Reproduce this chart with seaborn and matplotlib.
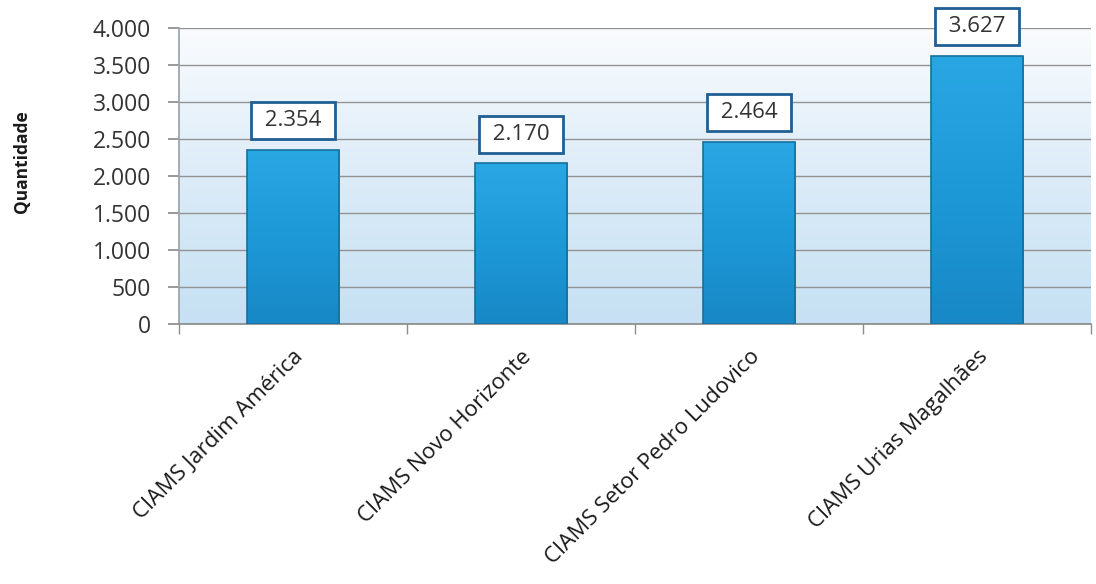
import matplotlib
matplotlib.use("Agg")
import matplotlib.pyplot as plt
import seaborn as sns
import numpy as np
import pandas as pd
from matplotlib.ticker import FuncFormatter, FixedLocator
from matplotlib.colors import LinearSegmentedColormap

categories = ["CIAMS Jardim América", "CIAMS Novo Horizonte",
              "CIAMS Setor Pedro Ludovico", "CIAMS Urias Magalhães"]
values = [2354, 2170, 2464, 3627]
y_ticks = [0, 500, 1000, 1500, 2000, 2500, 3000, 3500, 4000]

sns.set_theme(style="white")
plt.rcParams['font.family'] = ['Open Sans', 'DejaVu Sans']

df = pd.DataFrame({"cat": categories, "val": values})

fig = plt.figure(figsize=(10.96, 5.84), dpi=100)
ax = fig.add_axes([179/1096, 1 - 324/584, (1091-179)/1096, (324-28)/584])

sns.barplot(data=df, x="cat", y="val", color="#1f9ad6", width=0.405,
            edgecolor="#17709e", linewidth=1.2, ax=ax, zorder=3)

# background gradient of plot area
grad = np.linspace(0, 1, 256).reshape(-1, 1)
bg_cmap = LinearSegmentedColormap.from_list("bg", ["#c6e1f3", "#dcecf8", "#fafcfe"])
ax.imshow(grad, cmap=bg_cmap, aspect="auto", extent=[0, 1, 0, 1],
          transform=ax.transAxes, origin="lower", zorder=0)

# bar gradients
bar_cmap = LinearSegmentedColormap.from_list("bar", ["#1888c6", "#1e99d8", "#29a7e3"])
for p in ax.patches:
    x0, y0 = p.get_x(), p.get_y()
    w, h = p.get_width(), p.get_height()
    im = ax.imshow(grad, cmap=bar_cmap, aspect="auto",
                   extent=[x0, x0 + w, y0, y0 + h], origin="lower", zorder=3.5)
    im.set_clip_path(p)
    p.set_zorder(4)
    p.set_facecolor("none")
ax.set_xlim(-0.5, len(categories) - 0.5)
ax.set_ylim(0, 4000)

# gridlines
ax.yaxis.set_major_locator(FixedLocator(y_ticks))
ax.yaxis.grid(True, color="#939393", linewidth=1.0, zorder=1)
ax.set_axisbelow(True)

ax.yaxis.set_major_formatter(FuncFormatter(lambda v, _: f"{int(v):,}".replace(",", ".")))

for s in ["top", "right"]:
    ax.spines[s].set_visible(False)
ax.spines["left"].set_color("#9aa3ab")
ax.spines["bottom"].set_color("#8c8c8c")

ax.tick_params(axis="y", which="major", left=True, length=8, color="#8c8c8c",
               labelsize=16.5, labelcolor="#333333", pad=12)
ax.tick_params(axis="x", which="major", bottom=False, labelsize=16,
               labelcolor="#1a1a1a", pad=10)
# category boundary ticks
ax.set_xticks(np.arange(-0.5, len(categories), 1.0), minor=True)
ax.tick_params(axis="x", which="minor", bottom=True, length=7, color="#8c8c8c")

ax.set_xticks(range(len(categories)))
ax.set_xticklabels(categories, rotation=45, ha="right", rotation_mode="anchor")
ax.set_xlabel("")
ax.set_ylabel("Quantidade", fontsize=12.5, fontweight="bold", color="#1a1a1a")
ax.yaxis.set_label_coords(-0.162, 0.55)

for i, v in enumerate(values):
    ax.annotate(" " + f"{v:,}".replace(",", ".") + " ", xy=(i, v), xytext=(0, 21),
                textcoords="offset points", ha="center", va="center",
                fontsize=16, color="#333333", zorder=6,
                bbox=dict(boxstyle="square,pad=0.35", facecolor="white",
                          edgecolor="#1f5f94", linewidth=2.0))

fig.savefig("out.png", dpi=100)
